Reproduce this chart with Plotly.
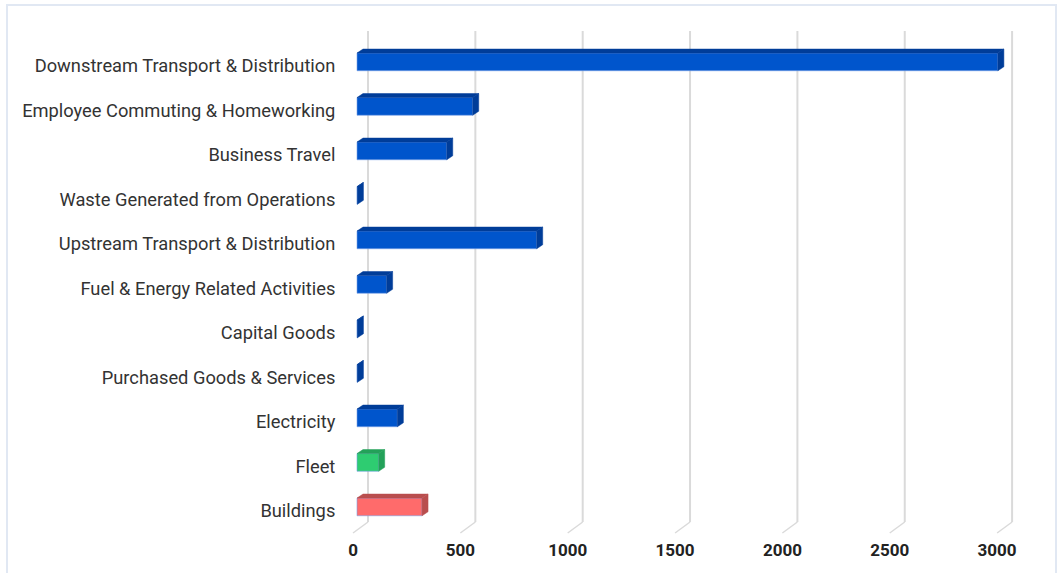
import plotly.graph_objects as go

categories = [
    "Downstream Transport & Distribution",
    "Employee Commuting & Homeworking",
    "Business Travel",
    "Waste Generated from Operations",
    "Upstream Transport & Distribution",
    "Fuel & Energy Related Activities",
    "Capital Goods",
    "Purchased Goods & Services",
    "Electricity",
    "Fleet",
    "Buildings",
]
values = [2985, 539, 418, 2, 837, 138, 2, 2, 188, 101, 303]
front_colors = ["#0055CC"] * 9 + ["#2ECC71", "#FF6B6B"]
side_colors = ["#003D99"] * 9 + ["#23A159", "#B94E4E"]
x_ticks = [0, 500, 1000, 1500, 2000, 2500, 3000]

W, H = 1061, 573
ML, MR, MT, MB = 345, 31, 25, 33
K = 0.2147          # px per unit
X0PX = 353          # px of value 0 on front (label) plane
Y0PX = 65.75        # px of first category center
BAND = 44.5         # px per category


def dx(px):
    return px / K


def dy(px):
    return px / BAND


def px2x(px):
    return (px - X0PX) / K


def px2y(py):
    return (py - Y0PX) / BAND


fig = go.Figure()

idx = list(range(len(categories)))
base = dx(4)
yt_off, yb_off = -12.7, 5.0
depth_x, depth_y = dx(6), dy(4)

# front faces
fig.add_trace(go.Bar(
    orientation="h",
    y=[i + dy((yt_off + yb_off) / 2) for i in idx],
    x=values,
    base=base,
    width=dy(yb_off - yt_off),
    marker=dict(color=front_colors, line=dict(color="rgba(120,160,230,0.6)", width=1)),
    hoverinfo="skip",
    showlegend=False,
))

# top and side faces
for i, v, sc in zip(idx, values, side_colors):
    xl = base
    xr = base + v
    yt = i + dy(yt_off)
    yb = i + dy(yb_off)
    fig.add_trace(go.Scatter(
        x=[xl, xr, xr + depth_x, xl + depth_x, xl],
        y=[yt, yt, yt - depth_y, yt - depth_y, yt],
        fill="toself", fillcolor=sc, mode="lines",
        line=dict(color=sc, width=0.5), hoverinfo="skip", showlegend=False,
    ))
    fig.add_trace(go.Scatter(
        x=[xr, xr + depth_x, xr + depth_x, xr, xr],
        y=[yt, yt - depth_y, yb - depth_y, yb, yt],
        fill="toself", fillcolor=sc, mode="lines",
        line=dict(color=sc, width=0.5), hoverinfo="skip", showlegend=False,
    ))

shapes = []
for t in x_ticks:
    xb = t + dx(15)
    shapes.append(dict(type="line", xref="x", yref="y", layer="below",
                       x0=xb, x1=xb, y0=px2y(31), y1=px2y(522),
                       line=dict(color="#DADADA", width=2)))
    shapes.append(dict(type="line", xref="x", yref="y", layer="below",
                       x0=xb, x1=t, y0=px2y(522), y1=px2y(533),
                       line=dict(color="#DADADA", width=1.5)))

pw = W - ML - MR
ph = H - MT - MB


def pxp(px):
    return (px - ML) / pw


def pyp(py):
    return 1 - (py - MT) / ph


shapes.append(dict(type="rect", xref="paper", yref="paper", layer="below",
                   x0=pxp(7), x1=pxp(1056), y0=pyp(590), y1=pyp(5),
                   line=dict(color="#E1E8F3", width=2), fillcolor="rgba(0,0,0,0)"))

fig.update_layout(
    width=W, height=H,
    margin=dict(l=ML, r=MR, t=MT, b=MB, autoexpand=False),
    paper_bgcolor="white", plot_bgcolor="white",
    font=dict(family="Roboto", color="#333333"),
    shapes=shapes,
    xaxis=dict(range=[px2x(ML), px2x(W - MR)], tickvals=x_ticks,
               ticktext=[str(t) for t in x_ticks], automargin=False,
               showgrid=False, zeroline=False, showline=False,
               tickfont=dict(size=17, color="#222222", family="Roboto", weight="bold"),
               ticks="", ticklabelstandoff=-2),
    yaxis=dict(range=[px2y(H - MB), px2y(MT)], tickvals=idx, ticktext=categories,
               automargin=False,
               showgrid=False, zeroline=False, showline=False,
               tickfont=dict(size=18.3, color="#333333", family="Roboto"),
               ticks="outside", ticklen=5, tickcolor="rgba(0,0,0,0)"),
)

fig.write_html("out.html")
